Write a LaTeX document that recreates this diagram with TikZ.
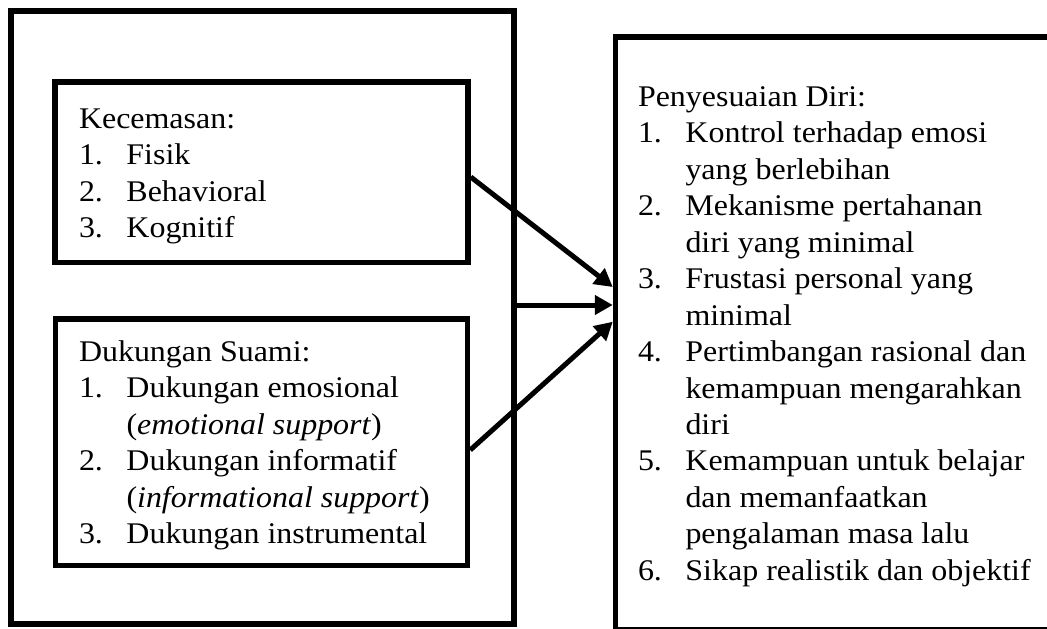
\documentclass[tikz,border=0pt]{standalone}
\usepackage{fontspec}
\setmainfont[FakeStretch=1.065]{Liberation Serif}
\usetikzlibrary{arrows.meta}
\newcommand{\itemnum}[1]{\makebox[47.5pt][l]{#1}}
\begin{document}
\begin{tikzpicture}[x=1pt,y=-1pt,
  boxframe/.style={draw=black,line width=5.5pt,rectangle,inner sep=0pt,fill=none},
  boxtext/.style={anchor=base west,inner sep=0pt,outer sep=0pt,
     font=\fontsize{30}{36.5}\selectfont},
  arr/.style={line width=5pt,-{Triangle[length=18pt,width=19pt]}}]
\useasboundingbox (0,0) rectangle (1047,629);
\fill[white] (0,0) rectangle (1047,629);
\clip (0,0) rectangle (1047,629);
% boxes
\node[boxframe,minimum width=503pt,minimum height=613pt] (out) at (262.5,317.5) {};
\node[boxframe,minimum width=413pt,minimum height=180.5pt] (k1) at (261.5,172.25) {};
\node[boxframe,minimum width=412pt,minimum height=246.5pt] (k2) at (261.5,442.25) {};
\node[boxframe,minimum width=444.5pt,minimum height=593pt] (rb) at (837.75,333.5) {};
% texts
\node[boxtext] (t1) at (79,128) {\begin{tabular}[t]{@{}l@{}}
Kecemasan:\\
\itemnum{1.}Fisik\\
\itemnum{2.}Behavioral\\
\itemnum{3.}Kognitif
\end{tabular}};
\node[boxtext] (t2) at (79,361) {\begin{tabular}[t]{@{}l@{}}
Dukungan Suami:\\
\itemnum{1.}Dukungan emosional\\
\itemnum{}(\textit{emotional support})\\
\itemnum{2.}Dukungan informatif\\
\itemnum{}(\textit{informational support})\\
\itemnum{3.}Dukungan instrumental
\end{tabular}};
\node[boxtext] (t3) at (638,106) {\begin{tabular}[t]{@{}l@{}}
Penyesuaian Diri:\\
\itemnum{1.}Kontrol terhadap emosi\\
\itemnum{}yang berlebihan\\
\itemnum{2.}Mekanisme pertahanan\\
\itemnum{}diri yang minimal\\
\itemnum{3.}Frustasi personal yang\\
\itemnum{}minimal\\
\itemnum{4.}Pertimbangan rasional dan\\
\itemnum{}kemampuan mengarahkan\\
\itemnum{}diri\\
\itemnum{5.}Kemampuan untuk belajar\\
\itemnum{}dan memanfaatkan\\
\itemnum{}pengalaman masa lalu\\
\itemnum{6.}Sikap realistik dan objektif
\end{tabular}};
% arrows
\draw[arr] ([yshift=-4.75pt]k1.east) -- ([yshift=46.5pt]rb.west);
\draw[arr] ([yshift=12.5pt]out.east) -- ([yshift=28.5pt]rb.west);
\draw[arr] ([yshift=-7.75pt]k2.east) -- ([yshift=11.8pt]rb.west);
\end{tikzpicture}
\end{document}
